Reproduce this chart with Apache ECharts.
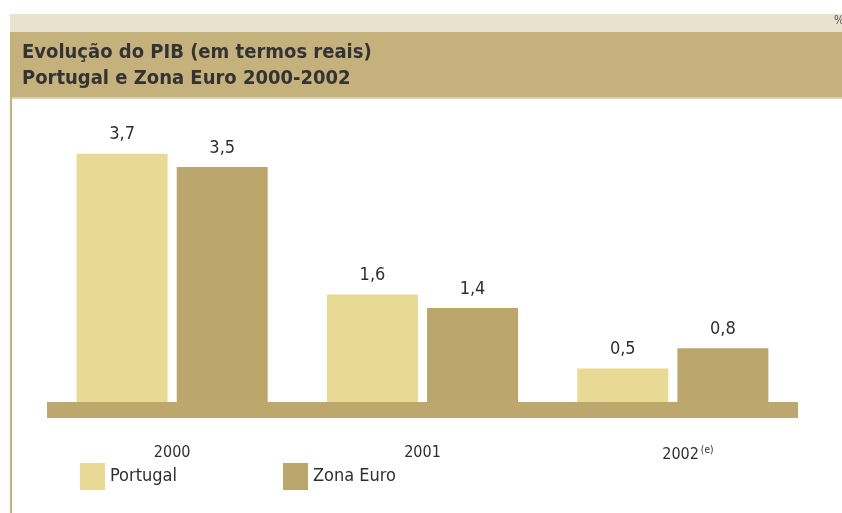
<!DOCTYPE html>
<html>
<head>
<meta charset="utf-8">
<script src="https://cdn.jsdelivr.net/npm/echarts@6/dist/echarts.min.js"></script>
<style>html,body{margin:0;padding:0;background:#fff}#c{width:842px;height:513px}</style>
</head>
<body>
<div id="c"></div>
<script>
const categories = ['2000', '2001', '2002'];
const portugal = [3.7, 1.6, 0.5];
const zonaEuro = [3.5, 1.4, 0.8];
const seriesNames = ['Portugal', 'Zona Euro'];
const titleLines = ['Evolução do PIB (em termos reais)', 'Portugal e Zona Euro 2000-2002'];

const FONT = '"DejaVu Sans Condensed", "DejaVu Sans", sans-serif';
const cLight = '#e8d995';
const cDark = '#bba76c';

const chart = echarts.init(document.getElementById('c'), null, {renderer: 'canvas'});
const fmt = p => String(p.value).replace('.', ',');

chart.setOption({
  animation: false,
  backgroundColor: '#fff',
  graphic: [
    {type: 'rect', shape: {x: 10, y: 14, width: 832, height: 18}, style: {fill: '#e9e2cf'}, z: -10},
    {type: 'rect', shape: {x: 10, y: 32, width: 832, height: 65}, style: {fill: '#c5b17c'}, z: -10},
    {type: 'rect', shape: {x: 10, y: 97, width: 832, height: 2}, style: {fill: '#ddd2b0'}, z: -10},
    {type: 'rect', shape: {x: 10, y: 97, width: 2, height: 416}, style: {fill: '#c5b17c'}, z: -10},
    {type: 'text', left: 834, top: 15, style: {text: '%', font: '12px ' + FONT, fill: '#555'}}
  ],
  title: {
    text: titleLines.join('\n'),
    left: 17, top: 35,
    textStyle: {fontFamily: FONT, fontSize: 20, fontWeight: 'bold', color: '#333333', lineHeight: 26}
  },
  legend: {
    data: seriesNames,
    left: 75, top: 458,
    icon: 'rect',
    itemWidth: 25, itemHeight: 27,
    itemGap: 106,
    textStyle: {fontFamily: FONT, fontSize: 18, color: '#2f2f2f'}
  },
  grid: {left: 47, right: 44, top: 100, bottom: 111},
  xAxis: {
    type: 'category',
    data: categories,
    offset: 8,
    axisLine: {onZero: false, lineStyle: {color: '#bca86d', width: 16, cap: 'butt'}},
    axisTick: {show: false},
    axisLabel: {
      margin: 35,
      fontFamily: FONT, fontSize: 16, color: '#2f2f2f',
      formatter: v => v === '2002' ? '{yr|2002}{sup|(e)}' : v,
      rich: {
        yr: {fontFamily: FONT, fontSize: 16, color: '#2f2f2f', padding: [0, 0, 0, 30]},
        sup: {fontFamily: FONT, fontSize: 10, color: '#2f2f2f', padding: [0, 0, 9, 2]}
      }
    }
  },
  yAxis: {type: 'value', min: 0, max: 4.5, show: false, splitLine: {show: false}},
  series: [
    {
      name: seriesNames[0], type: 'bar', data: portugal, barWidth: 91, barGap: '10%',
      itemStyle: {color: cLight},
      label: {show: true, position: 'top', distance: 10, formatter: fmt, fontFamily: FONT, fontSize: 18, color: '#2f2f2f'}
    },
    {
      name: seriesNames[1], type: 'bar', data: zonaEuro, barWidth: 91, barGap: '10%',
      itemStyle: {color: cDark},
      label: {show: true, position: 'top', distance: 10, formatter: fmt, fontFamily: FONT, fontSize: 18, color: '#2f2f2f'}
    }
  ]
});
</script>
</body>
</html>
